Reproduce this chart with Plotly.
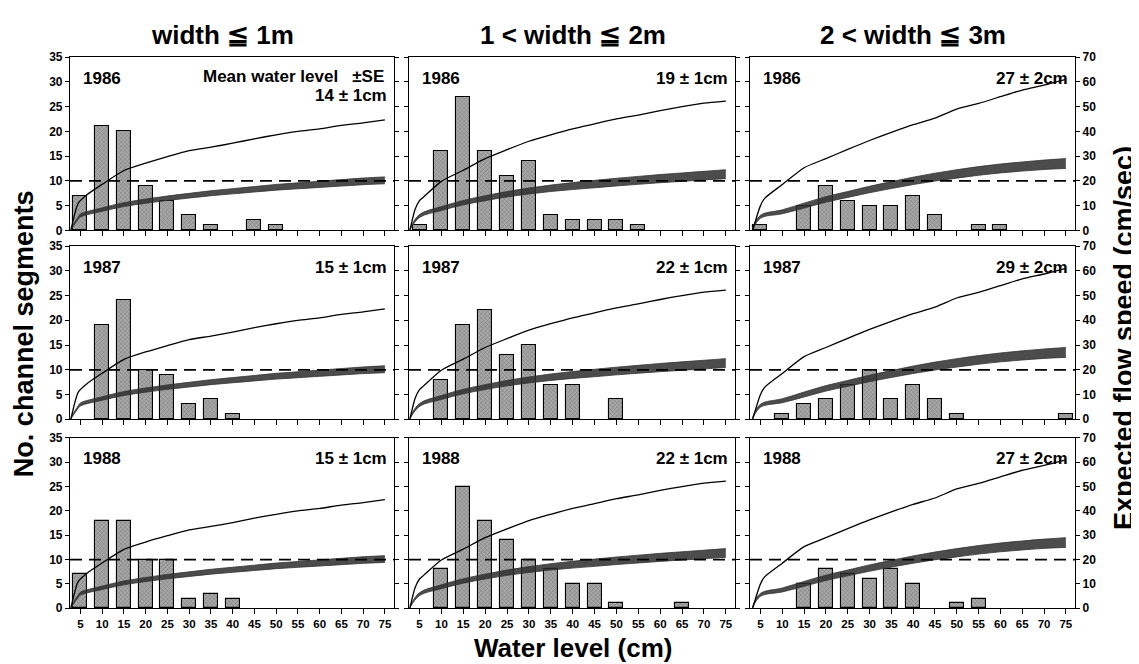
import plotly.graph_objects as go

W, H = 1139, 664

# ---------------- data ----------------
levels = [5, 10, 15, 20, 25, 30, 35, 40, 45, 50, 55, 60, 65, 70, 75]
years = ["1986", "1987", "1988"]
col_titles = ["width ≦ 1m", "1 < width ≦ 2m", "2 < width ≦ 3m"]
mean_labels = [["14 ± 1cm", "19 ± 1cm", "27 ± 2cm"],
               ["15 ± 1cm", "22 ± 1cm", "29 ± 2cm"],
               ["15 ± 1cm", "22 ± 1cm", "27 ± 2cm"]]

counts_w1_1986 = [7, 21, 20, 9, 6, 3, 1, 0, 2, 1, 0, 0, 0, 0, 0]
counts_w1_1987 = [0, 19, 24, 10, 9, 3, 4, 1, 0, 0, 0, 0, 0, 0, 0]
counts_w1_1988 = [7, 18, 18, 10, 10, 2, 3, 2, 0, 0, 0, 0, 0, 0, 0]
counts_w2_1986 = [1, 16, 27, 16, 11, 14, 3, 2, 2, 2, 1, 0, 0, 0, 0]
counts_w2_1987 = [0, 8, 19, 22, 13, 15, 7, 7, 0, 4, 0, 0, 0, 0, 0]
counts_w2_1988 = [0, 8, 25, 18, 14, 10, 8, 5, 5, 1, 0, 0, 1, 0, 0]
counts_w3_1986 = [1, 0, 5, 9, 6, 5, 5, 7, 3, 0, 1, 1, 0, 0, 0]
counts_w3_1987 = [0, 1, 3, 4, 7, 10, 4, 7, 4, 1, 0, 0, 0, 0, 1]
counts_w3_1988 = [0, 0, 5, 8, 7, 6, 8, 5, 0, 1, 2, 0, 0, 0, 0]

# expected flow speed (cm/sec) curves, one set per width class
thin_x_w1 = [2.8, 4.5, 6.5, 10, 15, 20, 25, 30, 35, 40, 45, 50, 55, 60, 65, 70, 75]
thin_v_w1 = [0, 11, 14.4, 18.6, 24.2, 27.2, 29.8, 32.2, 33.6, 35.2, 37.0, 38.6, 40.0, 41.0, 42.4, 43.4, 44.6]
thin_x_w2 = [2.8, 4, 5, 6, 10, 15, 20, 25, 30, 35, 40, 45, 50, 55, 60, 65, 70, 75]
thin_v_w2 = [0, 8.5, 12, 13.6, 19.8, 24.3, 29, 32.6, 36, 38.6, 41, 43, 45, 46.6, 48.4, 50, 51.4, 52.2]
thin_x_w3 = [3.2, 5, 6, 10, 15, 20, 25, 30, 35, 40, 45, 50, 55, 60, 65, 70, 75]
thin_v_w3 = [0, 10, 13, 18.5, 25.3, 29, 32.7, 36.3, 39.6, 42.7, 45.3, 49, 51.3, 54, 56.7, 58.7, 61]

band_x_w1 = [2.8, 4.5, 5, 10, 15, 20, 25, 30, 35, 40, 45, 50, 55, 60, 65, 70, 75]
band_v_w1 = [0.5, 5, 6, 8.4, 10.4, 11.8, 13.0, 14.0, 15.0, 15.8, 16.6, 17.4, 18.0, 18.6, 19.2, 19.8, 20.2]
band_h_w1 = [0.3, 0.5, 0.6, 0.7, 0.8, 0.85, 0.9, 0.95, 1.0, 1.05, 1.1, 1.15, 1.2, 1.25, 1.3, 1.35, 1.4]
band_x_w2 = [2.8, 5, 10, 15, 20, 25, 30, 35, 40, 45, 50, 55, 60, 65, 70, 75]
band_v_w2 = [0.5, 5.8, 8.8, 11.2, 13.0, 14.6, 15.9, 17.0, 17.9, 18.7, 19.5, 20.2, 20.9, 21.5, 22.1, 22.7]
band_h_w2 = [0.3, 0.6, 0.8, 0.9, 1.0, 1.1, 1.2, 1.3, 1.4, 1.5, 1.55, 1.6, 1.65, 1.7, 1.75, 1.8]
band_x_w3 = [3.2, 5, 10, 15, 20, 25, 30, 35, 40, 45, 50, 55, 60, 65, 70, 75]
band_v_w3 = [0.5, 5.5, 7.5, 10, 12.5, 14.5, 16.5, 18.3, 20, 21.5, 22.8, 24, 25, 25.8, 26.5, 27]
band_h_w3 = [0.3, 0.6, 0.8, 1.0, 1.1, 1.2, 1.3, 1.4, 1.5, 1.6, 1.7, 1.75, 1.8, 1.85, 1.9, 2.0]

reference_count = 10  # dashed line (left axis)

counts = [[counts_w1_1986, counts_w2_1986, counts_w3_1986],
          [counts_w1_1987, counts_w2_1987, counts_w3_1987],
          [counts_w1_1988, counts_w2_1988, counts_w3_1988]]
thin = [(thin_x_w1, thin_v_w1), (thin_x_w2, thin_v_w2), (thin_x_w3, thin_v_w3)]
band = [(band_x_w1, band_v_w1, band_h_w1), (band_x_w2, band_v_w2, band_h_w2),
        (band_x_w3, band_v_w3, band_h_w3)]

# ---------------- layout geometry (pixels) ----------------
cols_px = [(62, 386), (401, 727), (742, 1067)]
rows_px = [(43, 220), (236, 413), (432, 606)]

FONT = "Liberation Sans, Arial, Helvetica, sans-serif"
tickfont = dict(family=FONT, size=12, color="black", weight="bold")


def aid(letter, n):
    return letter if n == 1 else f"{letter}{n}"


fig = go.Figure()
layout = dict(width=W, height=H, margin=dict(l=0, r=0, t=0, b=0),
              paper_bgcolor="white", plot_bgcolor="white", showlegend=False,
              bargap=0)
annotations = []
shapes = []

for r in range(3):
    for c in range(3):
        i = r * 3 + c + 1
        xa, ya, yr = aid("x", i), aid("y", i), aid("y", 9 + i)
        x0, x1 = cols_px[c]
        y0, y1 = rows_px[r]
        layout[aid("xaxis", i)] = dict(
            domain=[x0 / W, x1 / W], range=[2.6, 77.1], anchor=ya,
            tickvals=levels, ticktext=[str(v) for v in levels],
            showticklabels=(r == 2), ticks="outside", ticklen=5, tickwidth=1.2,
            tickcolor="black", showline=True, mirror=True, linecolor="black",
            linewidth=1.2, showgrid=False, zeroline=False,
            tickfont=dict(family=FONT, size=11.5, color="black", weight="bold"),
            fixedrange=True)
        layout[aid("yaxis", i)] = dict(
            domain=[1 - y1 / H, 1 - y0 / H], range=[0, 35], dtick=5, anchor=xa,
            showticklabels=(c == 0), ticks="outside", ticklen=4, tickwidth=1.2,
            tickcolor="black", showline=True, linecolor="black", linewidth=1.2,
            showgrid=False, zeroline=False, tickfont=tickfont)
        layout[aid("yaxis", 9 + i)] = dict(
            overlaying=ya, side="right", range=[0, 70], dtick=10, anchor=xa,
            showticklabels=(c == 2), ticks="outside", ticklen=4, tickwidth=1.2,
            tickcolor="black", showline=True, linecolor="black", linewidth=1.2,
            showgrid=False, zeroline=False, tickfont=tickfont)

        cnt = counts[r][c]
        bx = [lv for lv, n in zip(levels, cnt) if n > 0]
        by = [n for n in cnt if n > 0]
        fig.add_trace(go.Bar(
            x=bx, y=by, xaxis=xa, yaxis=ya, width=3.2,
            marker=dict(color="#8f8f8f", line=dict(color="black", width=1.1),
                        pattern=dict(shape="x", fgcolor="#3a3a3a", bgcolor="#a9a9a9",
                                     size=3, solidity=0.3)),
            hoverinfo="skip"))

        bxs, bvs, bhs = band[c]
        fig.add_trace(go.Scatter(
            x=bxs, y=[v - h for v, h in zip(bvs, bhs)], xaxis=xa, yaxis=yr,
            mode="lines", line=dict(color="#333333", width=0.8, shape="spline"),
            hoverinfo="skip"))
        fig.add_trace(go.Scatter(
            x=bxs, y=[v + h for v, h in zip(bvs, bhs)], xaxis=xa, yaxis=yr,
            mode="lines", line=dict(color="#333333", width=0.8, shape="spline"),
            fill="tonexty", fillcolor="rgba(45,45,45,0.85)", hoverinfo="skip"))

        tx, tv = thin[c]
        fig.add_trace(go.Scatter(
            x=tx, y=tv, xaxis=xa, yaxis=yr, mode="lines",
            line=dict(color="black", width=1.3, shape="spline", smoothing=0.6),
            hoverinfo="skip"))

        shapes.append(dict(type="line", xref=f"{xa} domain", yref=ya,
                           x0=0, x1=1, y0=reference_count, y1=reference_count,
                           line=dict(color="black", width=1.8, dash="12px,7px")))

        annotations.append(dict(
            text=years[r], xref=f"{xa} domain", yref=f"{ya} domain",
            x=0.035, y=0.945, xanchor="left", yanchor="top", showarrow=False,
            font=dict(family=FONT, size=17, color="black", weight="bold")))
        if r == 0 and c == 0:
            annotations.append(dict(
                text="Mean water level   ±SE", xref=f"{xa} domain", yref=f"{ya} domain",
                x=0.975, y=0.955, xanchor="right", yanchor="top", showarrow=False,
                font=dict(family=FONT, size=17, color="black", weight="bold")))
            annotations.append(dict(
                text=mean_labels[r][c], xref=f"{xa} domain", yref=f"{ya} domain",
                x=0.985, y=0.845, xanchor="right", yanchor="top", showarrow=False,
                font=dict(family=FONT, size=17, color="black", weight="bold")))
        else:
            annotations.append(dict(
                text=mean_labels[r][c], xref=f"{xa} domain", yref=f"{ya} domain",
                x=0.985, y=0.945, xanchor="right", yanchor="top", showarrow=False,
                font=dict(family=FONT, size=17, color="black", weight="bold")))

title_font = dict(family=FONT, size=26, color="black", weight="bold")
for cx, t in zip([214, 565, 905], col_titles):
    annotations.append(dict(text=t, xref="paper", yref="paper", x=cx / W,
                            y=1 - 20 / H, xanchor="center", yanchor="middle",
                            showarrow=False, font=title_font))

axis_font = dict(family=FONT, size=27, color="black", weight="bold")
annotations.append(dict(text="No. channel segments", xref="paper", yref="paper",
                        x=16 / W, y=1 - 326 / H, textangle=-90, showarrow=False,
                        xanchor="center", yanchor="middle", font=axis_font))
annotations.append(dict(text="Expected flow speed (cm/sec)", xref="paper", yref="paper",
                        x=1116 / W, y=1 - 330 / H, textangle=-90, showarrow=False,
                        xanchor="center", yanchor="middle", font=axis_font))
annotations.append(dict(text="Water level (cm)", xref="paper", yref="paper",
                        x=565 / W, y=1 - 647 / H, showarrow=False,
                        xanchor="center", yanchor="middle",
                        font=dict(family=FONT, size=26, color="black", weight="bold")))

layout["annotations"] = annotations
layout["shapes"] = shapes
fig.update_layout(**layout)
fig.write_html("out.html")
